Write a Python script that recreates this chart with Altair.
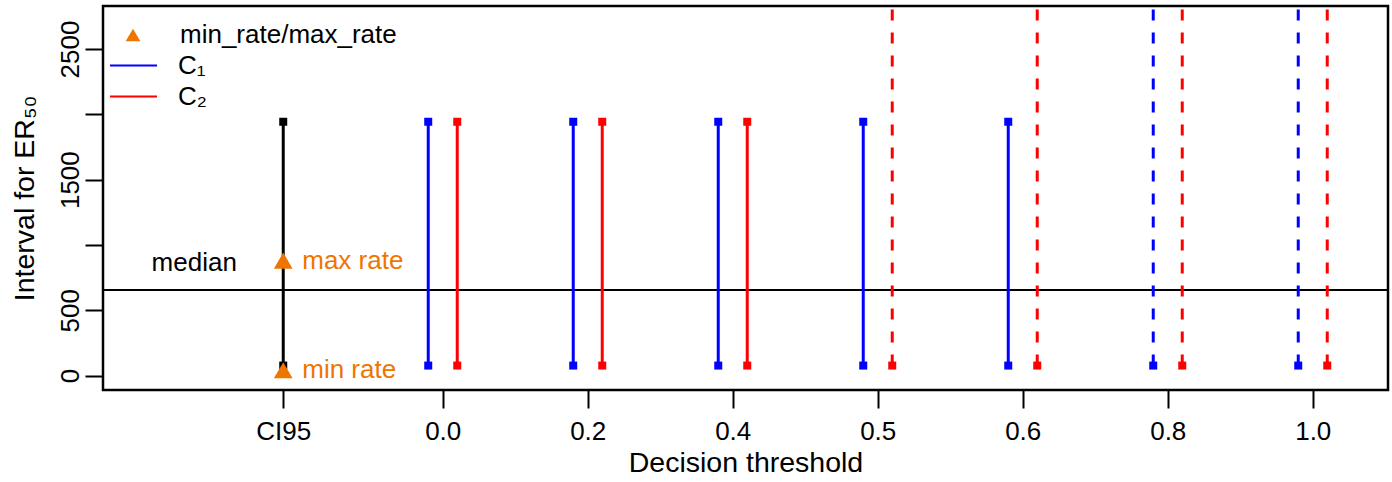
import altair as alt
import pandas as pd

# ---- data ----
thresholds = ["0.0", "0.2", "0.4", "0.5", "0.6", "0.8", "1.0"]
c1_lower = [77, 77, 77, 77, 77, 77, 77]
c1_upper = [1943, 1943, 1943, 1943, 1943, None, None]   # None = open-ended (dashed)
c2_lower = [77, 77, 77, 77, 77, 77, 77]
c2_upper = [1943, 1943, 1943, None, None, None, None]
ci95_lower = [77]
ci95_upper = [1943]
min_rate = [41]
max_rate = [880]
median_value = [656]
methods = ["C\u2081", "C\u2082"]
method_colors = ["#0000FF", "#FF0000"]
ci_label = "CI95"

# ---- layout constants ----
CI_POS = -1.1
OFFSET = 0.1
OPEN_TOP = 3200
ORANGE = "#EE7600"
FONT = "Liberation Sans"

rows = []
for i, t in enumerate(thresholds):
    for m, lo_list, up_list, off in [(methods[0], c1_lower, c1_upper, -OFFSET),
                                     (methods[1], c2_lower, c2_upper, OFFSET)]:
        up = up_list[i]
        rows.append({"x": i + off, "lower": lo_list[i],
                     "upper": OPEN_TOP if up is None else up,
                     "open": up is None, "method": m})
seg = pd.DataFrame(rows)
closed = seg[~seg["open"]]
opened = seg[seg["open"]].rename(columns={"method": "series"})

ends = pd.concat([
    seg[["x", "method"]].assign(v=seg["lower"]),
    closed[["x", "method"]].assign(v=closed["upper"]),
], ignore_index=True)

ci_df = pd.DataFrame({"x": [CI_POS], "lower": ci95_lower, "upper": ci95_upper})
ci_ends = pd.DataFrame({"x": [CI_POS, CI_POS], "v": ci95_lower + ci95_upper})
tri_df = pd.DataFrame({"x": [CI_POS, CI_POS], "v": min_rate + max_rate,
                       "kind": ["min_rate/max_rate"] * 2,
                       "txt": ["min rate", "max rate"]})
med_df = pd.DataFrame({"v": median_value, "txt": ["median"], "x": [-1.714],
                       "ty": [862]})

xscale = alt.Scale(domain=[-2.343, 6.519], nice=False, zero=False)
yscale = alt.Scale(domain=[-110, 2829], nice=False, zero=False)

xvals = [CI_POS] + list(range(len(thresholds)))
lab_arr = "[" + ",".join("'%s'" % t for t in thresholds) + "]"
xaxis = alt.Axis(values=xvals,
                 labelExpr="datum.value < -0.5 ? '%s' : %s[round(datum.value)]" % (ci_label, lab_arr),
                 title="Decision threshold", grid=False, domain=False,
                 tickSize=18, tickWidth=2, tickColor="black",
                 labelFontSize=26, labelColor="black", labelPadding=10,
                 titleFontSize=28.5, titleFontWeight="normal", titleColor="black",
                 titlePadding=4, labelFlush=False, labelOverlap=False)
yaxis = alt.Axis(values=[0, 500, 1000, 1500, 2000, 2500],
                 labelExpr="datum.value == 1000 || datum.value == 2000 ? '' : datum.label",
                 format="d",
                 title="Interval for ER\u2085\u2080", grid=False, domain=False,
                 tickSize=18, tickWidth=2, tickColor="black",
                 labelFontSize=26, labelColor="black", labelPadding=2,
                 labelAngle=270, labelAlign="center", labelBaseline="bottom",
                 titleFontSize=28.5, titleFontWeight="normal", titleColor="black",
                 titlePadding=18, labelFlush=False, labelOverlap=False)


def X(f):
    return alt.X(f, type="quantitative", scale=xscale, axis=xaxis)


def Y(f):
    return alt.Y(f, type="quantitative", scale=yscale, axis=yaxis)


color_scale = alt.Scale(domain=methods, range=method_colors)
# same mapping, listed in reverse so that its legend stays separate
color_scale_rev = alt.Scale(domain=methods[::-1], range=method_colors[::-1])


def line_legend(value, ly):
    return alt.Legend(title=None, orient="none", legendX=6, legendY=ly, values=[value],
                      symbolType="stroke", symbolSize=2209, symbolStrokeWidth=2,
                      symbolDash=[1, 0], labelFontSize=26, labelFont=FONT,
                      labelColor="black", labelLimit=400, labelOffset=20, padding=0)


median_rule = alt.Chart(med_df).mark_rule(color="black", strokeWidth=2).encode(y=Y("v"))
median_text = alt.Chart(med_df).mark_text(fontSize=26, color="black", align="center",
                                          baseline="middle", font=FONT).encode(
    x=X("x"), y=Y("ty"), text="txt:N")

ci_rule = alt.Chart(ci_df).mark_rule(color="black", strokeWidth=3).encode(
    x=X("x"), y=Y("lower"), y2="upper")
ci_sq = alt.Chart(ci_ends).mark_square(color="black", size=64, opacity=1).encode(
    x=X("x"), y=Y("v"))

solid = alt.Chart(closed).mark_rule(strokeWidth=3).encode(
    x=X("x"), y=Y("lower"), y2="upper",
    stroke=alt.Stroke("method:N", scale=color_scale, legend=line_legend(methods[0], 35)))
dashed = alt.Chart(opened).mark_rule(strokeWidth=3, strokeDash=[11, 12], clip=True).encode(
    x=X("x"), y=Y("lower"), y2="upper",
    color=alt.Color("series:N", scale=color_scale_rev, legend=line_legend(methods[1], 66)))
squares = alt.Chart(ends).mark_square(size=64, opacity=1, filled=True).encode(
    x=X("x"), y=Y("v"),
    fill=alt.Fill("method:N", scale=color_scale, legend=None))

tri = alt.Chart(tri_df).mark_point(filled=True, color=ORANGE, size=350, opacity=1).encode(
    x=X("x"), y=Y("v"),
    shape=alt.Shape("kind:N", scale=alt.Scale(range=["triangle-up"]),
                    legend=alt.Legend(title=None, orient="none", legendX=17, legendY=16,
                                      symbolSize=216, labelFontSize=26, labelFont=FONT,
                                      labelColor="black", labelOffset=34, padding=0,
                                      labelLimit=400,
                                      symbolFillColor=ORANGE, symbolStrokeWidth=0)))
tri_text = alt.Chart(tri_df).mark_text(fontSize=26, color=ORANGE, align="left",
                                       baseline="middle", dx=19, font=FONT).encode(
    x=X("x"), y=Y("v"), text="txt:N")

chart = alt.layer(
    median_rule, ci_rule, solid, dashed, squares, ci_sq, tri, tri_text, median_text
).properties(
    width=1285, height=384,
    padding={"left": 103, "top": 6, "right": 4, "bottom": 92},
    autosize=alt.AutoSizeParams(type="none"),
).configure(
    font=FONT, background="white",
    view=alt.ViewConfig(stroke="black", strokeWidth=2.5),
)

chart.save("out.html", embed_options={"renderer": "svg", "actions": False})
